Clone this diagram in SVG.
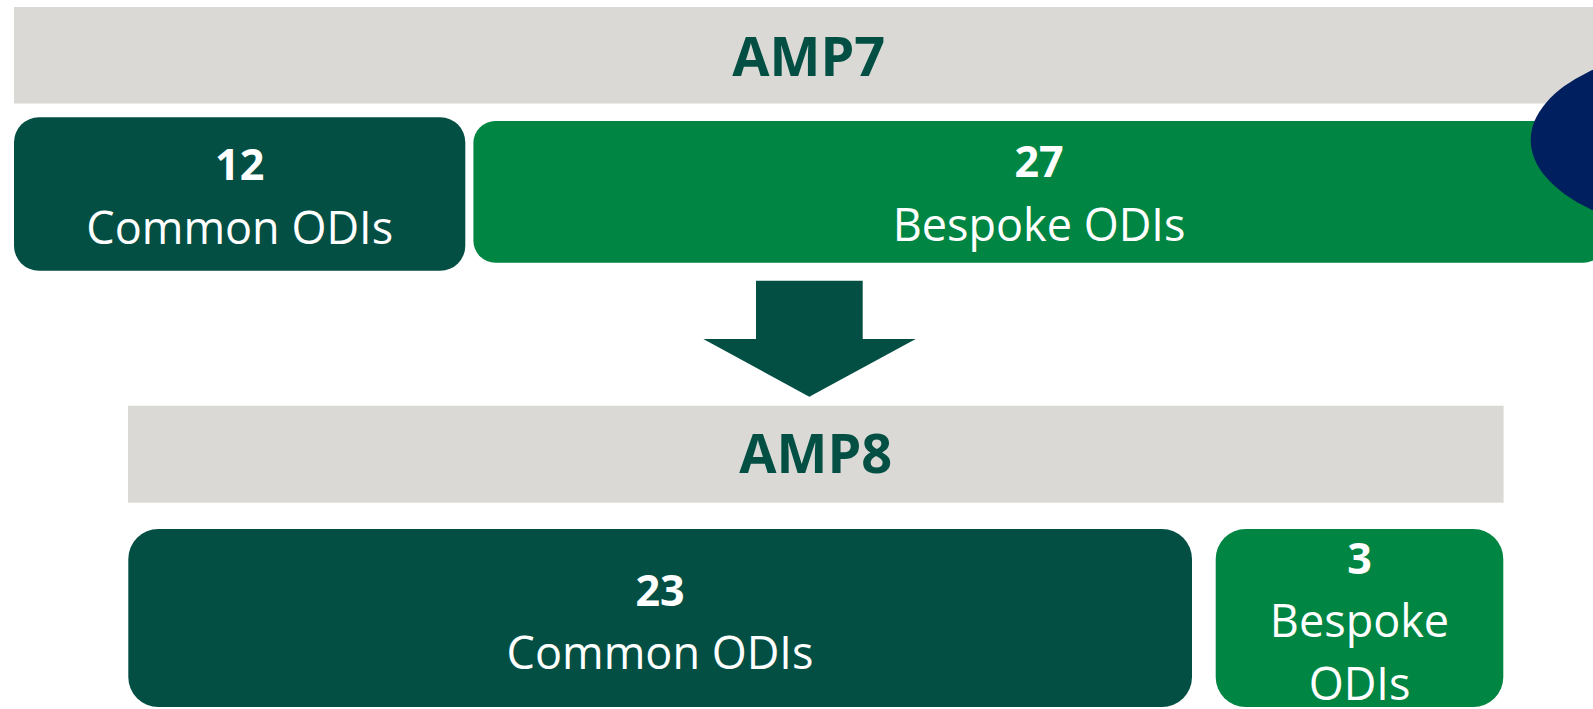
<svg xmlns="http://www.w3.org/2000/svg" width="1593" height="709" viewBox="0 0 1593 709">
<style>
.bar{fill:#DAD9D5}
.dark{fill:#034F44}
.bright{fill:#008542}
.hdr{font-family:"Open Sans","Noto Sans","Liberation Sans",sans-serif;font-weight:700;font-size:54px;fill:#034F44;text-anchor:middle}
.num{font-family:"Open Sans","Noto Sans","Liberation Sans",sans-serif;font-weight:700;font-size:43px;fill:#FFFFFF;text-anchor:middle}
.lbl{font-family:"Open Sans","Noto Sans","Liberation Sans",sans-serif;font-weight:400;font-size:45px;fill:#FFFFFF;text-anchor:middle}
</style>
<rect width="1593" height="709" fill="#FFFFFF"/>
<g id="amp7-header">
  <rect class="bar" x="14" y="7" width="1600" height="96.5"/>
  <text class="hdr" x="808.7" y="76">AMP7</text>
</g>
<g id="amp7-common">
  <rect class="dark" x="14" y="117.3" width="451.3" height="153.4" rx="25" ry="25"/>
  <text class="num" x="239.7" y="180">12</text>
  <text class="lbl" x="239.7" y="244.3">Common ODIs</text>
</g>
<g id="amp7-bespoke">
  <rect class="bright" x="473.4" y="121" width="1132" height="141.7" rx="22" ry="22"/>
  <text class="num" x="1039" y="176.7">27</text>
  <text class="lbl" x="1039" y="240.7">Bespoke ODIs</text>
</g>
<g id="logo-ellipse">
  <ellipse cx="1730.7" cy="140" rx="200" ry="97" fill="#001F5E"/>
</g>
<g id="connectors">
  <polygon class="dark" points="756,280.7 862.7,280.7 862.7,339 915.7,339 809.3,396.7 703.3,339 756,339"/>
</g>
<g id="amp8-header">
  <rect class="bar" x="128" y="405.7" width="1375.6" height="97"/>
  <text class="hdr" x="815.7" y="473.3">AMP8</text>
</g>
<g id="amp8-common">
  <rect class="dark" x="128.3" y="529" width="1063.7" height="178" rx="30" ry="30"/>
  <text class="num" x="660" y="606">23</text>
  <text class="lbl" x="660" y="669.3">Common ODIs</text>
</g>
<g id="amp8-bespoke">
  <rect class="bright" x="1215.7" y="529" width="287.6" height="178" rx="30" ry="30"/>
  <text class="num" x="1359.5" y="574">3</text>
  <text class="lbl" x="1359.5" y="637.3">Bespoke</text>
  <text class="lbl" x="1359.5" y="700">ODIs</text>
</g>
</svg>
